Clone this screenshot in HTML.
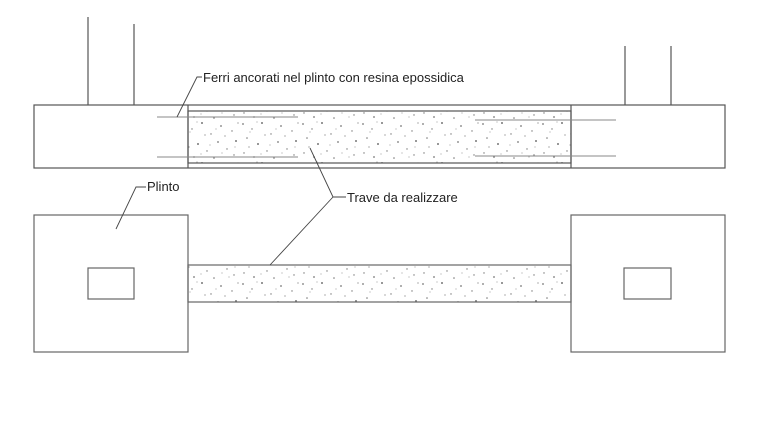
<!DOCTYPE html>
<html><head><meta charset="utf-8"><style>
html,body{margin:0;padding:0;background:#fff;}
svg{display:block}
text{font-family:"Liberation Sans",sans-serif;font-size:13px;fill:#222}
</style></head><body>
<svg width="762" height="434" viewBox="0 0 762 434" xmlns="http://www.w3.org/2000/svg">
<defs>
<pattern id="sp" width="60" height="40" patternUnits="userSpaceOnUse">
<g fill="#777">
<circle cx="3" cy="4" r="0.9"/><circle cx="12" cy="9" r="0.7"/><circle cx="22" cy="3" r="1"/><circle cx="31" cy="14" r="0.7"/>
<circle cx="41" cy="6" r="0.9"/><circle cx="52" cy="11" r="0.7"/><circle cx="7" cy="18" r="0.8"/><circle cx="18" cy="24" r="1"/>
<circle cx="27" cy="31" r="0.7"/><circle cx="38" cy="22" r="0.9"/><circle cx="47" cy="29" r="0.7"/><circle cx="56" cy="21" r="1"/>
<circle cx="4" cy="33" r="0.7"/><circle cx="14" cy="37" r="0.9"/><circle cx="34" cy="38" r="0.8"/><circle cx="54" cy="35" r="0.7"/>
<circle cx="25" cy="15" r="0.6"/><circle cx="45" cy="16" r="0.6"/><circle cx="9" cy="27" r="0.6"/><circle cx="58" cy="3" r="0.6"/>
<circle cx="17" cy="2" r="0.5"/><circle cx="36" cy="9" r="0.5"/><circle cx="49" cy="37" r="0.5"/><circle cx="21" cy="34" r="0.5"/>
<circle cx="30" cy="25" r="0.5"/><circle cx="42" cy="33" r="0.5"/><circle cx="10" cy="12" r="0.5"/><circle cx="55" cy="27" r="0.5"/>
</g>
</pattern>
</defs>
<g stroke="#555" stroke-width="1.2" fill="none">
<line x1="88" y1="17" x2="88" y2="105"/><line x1="134" y1="24" x2="134" y2="105"/>
<line x1="625" y1="46" x2="625" y2="105"/><line x1="671" y1="46" x2="671" y2="105"/>
<rect x="34" y="105" width="691" height="63"/>
<rect x="188" y="111" width="383" height="52" fill="url(#sp)"/>
<line x1="188" y1="105" x2="188" y2="168"/><line x1="571" y1="105" x2="571" y2="168"/>
</g>
<g stroke="#888" stroke-width="1">
<line x1="157" y1="117" x2="298" y2="117"/><line x1="157" y1="157" x2="298" y2="157"/>
<line x1="475" y1="120" x2="616" y2="120"/><line x1="475" y1="156" x2="616" y2="156"/>
</g>
<g stroke="#666" stroke-width="1.2" fill="none">
<rect x="34" y="215" width="154" height="137"/>
<rect x="88" y="268" width="46" height="31"/>
<rect x="571" y="215" width="154" height="137"/>
<rect x="624" y="268" width="47" height="31"/>
<rect x="188" y="265" width="383" height="37" fill="url(#sp)"/>
</g>
<g stroke="#444" stroke-width="0.9" fill="none">
<polyline points="177,117 197,77 202,77"/>
<polyline points="116,229 136,187 146,187"/>
<polyline points="310,148 333,197 346,197"/>
<line x1="333" y1="197" x2="270" y2="265"/>
</g>
<text x="203" y="82">Ferri ancorati nel plinto con resina epossidica</text>
<text x="147" y="191">Plinto</text>
<text x="347" y="202">Trave da realizzare</text>
</svg>
</body></html>
